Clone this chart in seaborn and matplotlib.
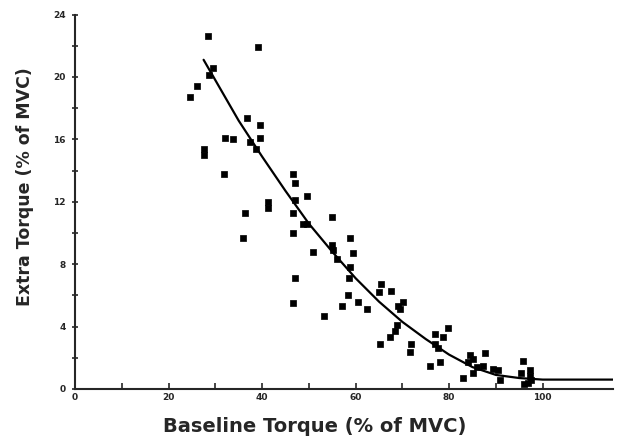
import numpy as np
import pandas as pd
import matplotlib
matplotlib.use('Agg')
import matplotlib.pyplot as plt
import seaborn as sns

# Puntos medidos (torque base vs torque extra, % de MVC)
baseline = [28.4, 39.1, 29.5, 28.6, 26.1, 24.6, 36.8, 39.5, 39.5, 32.1, 33.8, 37.4,
            38.7, 27.6, 27.6, 31.8, 46.6, 47.0,
            49.6, 41.2, 41.2, 47.0, 36.3, 46.6, 48.7, 49.6, 46.6, 35.9, 50.9, 47.0,
            46.6, 53.2,
            54.9, 58.8, 54.9, 55.1, 59.4, 56.0, 58.8, 58.5, 65.4, 65.0, 67.5, 58.3,
            60.5, 57.1, 62.4, 70.1, 69.0, 69.4, 68.8, 68.4, 67.3, 65.2, 71.8, 71.6,
            79.7, 76.9, 78.6, 76.9, 77.6, 75.9, 78.0, 84.4, 85.0, 84.0, 85.9, 85.0,
            87.6, 89.3, 82.9,
            87.2, 90.4, 95.7, 97.2, 97.2, 96.8, 90.8, 96.0, 97.6, 95.4]
extra = [22.6, 21.9, 20.6, 20.1, 19.4, 18.7, 17.4, 16.9, 16.1, 16.1, 16.0, 15.8,
         15.4, 15.4, 15.0, 13.8, 13.8, 13.2,
         12.4, 12.0, 11.6, 12.1, 11.3, 11.3, 10.6, 10.6, 10.0, 9.7, 8.8, 7.1,
         5.5, 4.7,
         11.0, 9.7, 9.2, 8.9, 8.7, 8.3, 7.8, 7.1, 6.7, 6.2, 6.3, 6.0,
         5.6, 5.3, 5.1, 5.6, 5.3, 5.1, 4.1, 3.7, 3.3, 2.9, 2.9, 2.4,
         3.9, 3.5, 3.3, 2.9, 2.6, 1.5, 1.7, 2.2, 1.9, 1.7, 1.4, 1.0,
         2.3, 1.3, 0.7,
         1.5, 1.2, 1.8, 1.2, 0.8, 0.4, 0.6, 0.3, 0.6, 1.0]

# Curva ajustada
curva_x = [27.5, 35, 40, 45, 50, 55, 60, 65, 70, 75, 80, 85, 90, 95, 100, 110, 118]
curva_y = [21.1, 17.2, 14.9, 12.7, 10.6, 8.8, 7.1, 5.6, 4.3, 3.2, 2.2, 1.4, 0.9, 0.7,
           0.6, 0.6, 0.6]

df = pd.DataFrame({'baseline': baseline, 'extra': extra})
curva = pd.DataFrame({'x': curva_x, 'y': curva_y})

sns.set_style('ticks')
plt.rcParams['font.family'] = ['DejaVu Sans']

fig = plt.figure(figsize=(6.41, 4.41), dpi=100)
ax = fig.add_axes([0.117, 0.118, 0.839, 0.849])

sns.scatterplot(x='baseline', y='extra', data=df, marker='s', s=24, color='black',
                edgecolor='black', linewidth=0.5, ax=ax)
sns.lineplot(x='x', y='y', data=curva, color='black', linewidth=1.6, ax=ax)

ax.set_xlim(0, 115)
ax.set_ylim(0, 24)
ax.set_xticks(np.arange(0, 101, 20))
ax.set_xticks(np.arange(10, 100, 20), minor=True)
ax.set_yticks(np.arange(0, 25, 4))
ax.set_yticks(np.arange(2, 24, 4), minor=True)
ax.tick_params(axis='x', which='both', direction='in', length=4, width=1.2,
               labelsize=6.5, pad=3)
ax.tick_params(axis='y', which='both', direction='inout', length=5, width=1.2,
               labelsize=6.5, pad=4)
for lbl in ax.get_xticklabels() + ax.get_yticklabels():
    lbl.set_fontweight('bold')

ax.spines['top'].set_visible(False)
ax.spines['right'].set_visible(False)
ax.spines['left'].set_linewidth(1.5)
ax.spines['bottom'].set_linewidth(1.5)

ax.set_xlabel('Baseline Torque (% of MVC)', fontsize=14, fontweight='bold')
ax.set_ylabel('Extra Torque (% of MVC)', fontsize=12.5, fontweight='bold')
ax.xaxis.set_label_coords(0.446, -0.075)
ax.yaxis.set_label_coords(-0.076, 0.54)

plt.savefig('out.png', dpi=100)
